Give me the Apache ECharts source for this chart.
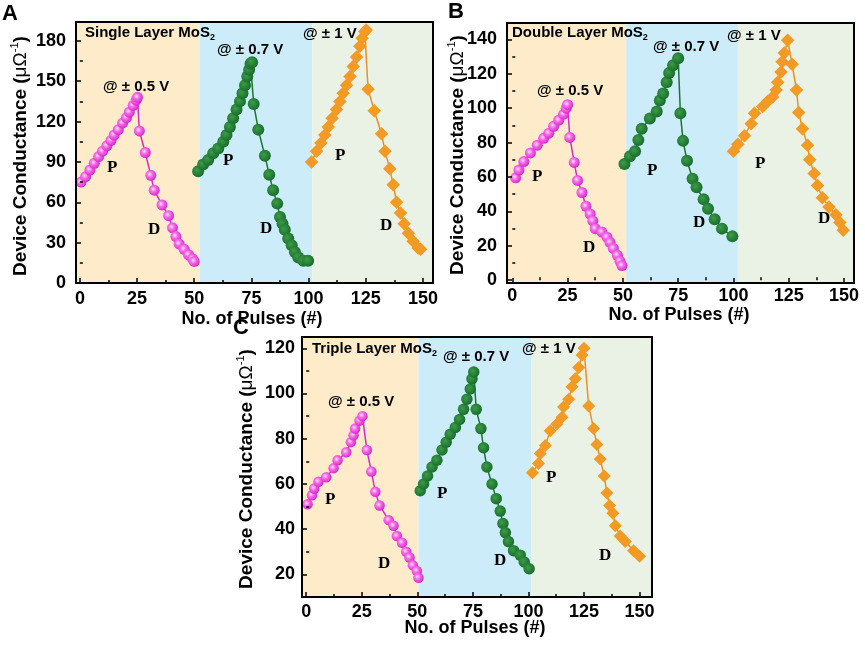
<!DOCTYPE html>
<html><head><meta charset="utf-8">
<script src="https://cdn.jsdelivr.net/npm/echarts@6/dist/echarts.min.js"></script>
<style>html,body{margin:0;padding:0;background:#fff}#c{width:865px;height:645px}</style>
</head><body><div id="c"></div>
<script>
// ---------- tick labels ----------
const xTicks = [0, 25, 50, 75, 100, 125, 150];
const xMinor = [12.5, 37.5, 62.5, 87.5, 112.5, 137.5];
const yTicksA = [0, 30, 60, 90, 120, 150, 180];
const yMinorA = [15, 45, 75, 105, 135, 165];
const yTicksB = [0, 20, 40, 60, 80, 100, 120, 140];
const yMinorB = [10, 30, 50, 70, 90, 110, 130];
const yTicksC = [20, 40, 60, 80, 100, 120];
const yMinorC = [30, 50, 70, 90, 110];

// ---------- background band limits (pulse number) ----------
const bandsA = [52.4, 101.6];
const bandsB = [51.5, 102];
const bandsC = [50.5, 101.2];

// ---------- Panel A : Single Layer ----------
const A_pink_x = [0.5,2.5,4.4,6.3,8.2,9.9,11.8,13.6,15,16.8,18.7,20.4,21.6,23.3,24.6,25.2, 26,28.6,31,32.5,35.9,38.8,40.5,42,43.4,45.6,47.5,49.3,50];
const A_pink_y = [75,79,84,89,94,98,102,106,110,114,119,123,127,132,136,138, 113,97,80,69,58,50,41,34.5,29,25,21,18,16];
const A_green_x = [51.7,53.9,56.1,58.3,60.5,62.7,64.1,65.6,67,68.5,70,71.1,72.2,73.2,74,74.6,75.3, 76,78,80.9,82.8,84.5,86.3,87.5,88.6,89.6,91.1,92.6,94,95.5,97.7,99.8];
const A_green_y = [83,88,91.5,96.5,100,105,110,116,122.5,129,135,141,147,153.5,158.5,163,164, 133,114,94.5,80.5,69,59,49,44,39.5,33,28,23,19,16.5,16.5];
const A_orange_x = [101.3,103.5,105.4,107.1,108.6,110.3,112.2,113.7,115.1,116.6,118.1,119.5,121,122.4,123.4,124.6,125.2, 126,128.7,131.9,133.4,135.5,137,138.5,140.2,141.8,143.6,145.7,147.9,149];
const A_orange_y = [90,98,104,110,116,122.5,129,135,141,147,153.5,161,168,176,182,187,188, 144,128,111,98,85,73,60,52,44,37,31,26,25];

// ---------- Panel B : Double Layer ----------
const B_pink_x = [1.5,3,5.2,8.2,11.3,14.2,16.5,18.7,21,23.2,24.4,25, 26,28,29.5,31.5,33.3,35.2,36.4,37.5,40.5,42.8,44.2,45.7,47.5,48.7,49.6];
const B_pink_y = [59.5,64,69,74,78.5,82.5,85.5,89.5,93,96.5,100,102, 83,68.5,58,51,43,38.5,34.5,30,28,25,22,18.5,14.5,11,8.5];
const B_green_x = [50.7,53.2,55.5,57,58.5,62.2,65.3,66.7,68.2,69.8,70.9,72.7,75, 76,77.2,79,81.5,83.3,86.5,88.5,91.5,94.8,99.5];
const B_green_y = [67.5,72,75,81.5,88,94,98,104.5,108.5,115,120.5,125,129, 97,81,69.5,59,54,47,41.5,35.5,30,25.5];
const B_orange_x = [100,102,105,108,109.5,113.2,115.5,117.7,119.3,120,121.5,122,123,124.5, 126.5,128.5,129.5,131.2,133.5,134.5,136.5,138,140.2,143.2,146.3,148.1,149.6];
const B_orange_y = [75,79,84,91,97,101,104,106.5,110.5,115,121,127,132,139.5, 125.5,110.5,97.5,88,78.5,70,62,55,48,42.5,38,33.5,29];

// ---------- Panel C : Triple Layer ----------
const C_pink_x = [0.6,2.6,3.6,5.5,9,12.3,14.1,18,20.1,21.3,22,24,25.3, 27.3,29.3,31.1,33,37.1,39.3,40.8,43.1,45,46.5,48,49.8,50.5];
const C_pink_y = [51,55,58,61,63,67,70.5,74,78.5,81.5,84.5,88,90, 75,65.5,56.5,50.5,44,41.5,37,34,30,27.5,24,21.5,18.5];
const C_green_x = [51.3,52.8,54.6,56.6,58.8,61.1,63,64.8,67.1,69,70.8,72.3,73.8,74.6,75.4, 76.5,78.6,79.8,81.3,83.6,85.5,87.3,88.5,89.6,91,93.3,96.3,98.1,100.3];
const C_green_y = [57,60,63.5,67.5,70.5,75,78.5,82,85,88.5,93,97.5,102,106.5,109.5, 93,84.5,76,67.5,60,53.5,48,42.5,38.5,34.5,30.5,28.5,25.5,22.5];
const C_orange_x = [101.8,104.5,105.3,107.6,109.8,112.8,115.1,115.8,118.1,119.6,121.1,122.6,124.1,125, 127.1,129.3,130.8,132.3,134.1,135.3,136.5,138,139.1,141.3,143.6,147.3,150];
const C_orange_y = [65,69,73.5,77,83.5,86.5,89.5,94,97.5,103,106.5,111.5,117,120, 94.5,84.5,77.5,71,63.5,56,50.5,47,41.5,37,34.5,30.5,28];

// ---------- styles ----------
const SANS = "'Liberation Sans', Arial, Helvetica, sans-serif";
const SERIF = "'Liberation Serif', 'Times New Roman', serif";
const BAND_COLORS = ['#fdebc9', '#cbecf8', '#eaf1e5'];
const pinkFill = {type:'radial', x:0.4, y:0.4, r:0.7, colorStops:[{offset:0,color:'#ffe2fb'},{offset:0.35,color:'#f46ee9'},{offset:0.75,color:'#e436d4'},{offset:1,color:'#c01cb2'}]};
const greenFill = {type:'radial', x:0.4, y:0.4, r:0.7, colorStops:[{offset:0,color:'#3c9c48'},{offset:1,color:'#136628'}]};
const orangeFill = '#f29a24';

const zip = (xs, ys) => xs.map((x, i) => [x, ys[i]]);

const grids = [], xAxes = [], yAxes = [], series = [];

function panel(p) {
  const gi = grids.length;
  grids.push({left:p.grid[0], top:p.grid[1], width:p.grid[2], height:p.grid[3], containLabel:false});
  const base = {gridIndex:gi, type:'value', splitLine:{show:false}, z:10};
  const xi = xAxes.length, yi = yAxes.length;
  xAxes.push(Object.assign({}, base, {min:p.x[0], max:p.x[1], position:'bottom',
    axisLine:{show:true, onZero:false, lineStyle:{color:'#000', width:2}},
    axisTick:{show:true, inside:true, length:5, customValues:xTicks, lineStyle:{color:'#000', width:1.5}},
    axisLabel:{customValues:xTicks, color:'#000', fontWeight:'bold', fontSize:18, fontFamily:SANS, margin:p.xm}}));
  xAxes.push(Object.assign({}, base, {min:p.x[0], max:p.x[1], position:'bottom',
    axisLine:{show:false}, axisLabel:{show:false},
    axisTick:{show:true, inside:true, length:3, customValues:xMinor, lineStyle:{color:'#000', width:1.5}}}));
  xAxes.push(Object.assign({}, base, {min:p.x[0], max:p.x[1], position:'top',
    axisLine:{show:true, onZero:false, lineStyle:{color:'#000', width:2}}, axisTick:{show:false}, axisLabel:{show:false}}));
  yAxes.push(Object.assign({}, base, {min:p.y[0], max:p.y[1], position:'left',
    axisLine:{show:true, onZero:false, lineStyle:{color:'#000', width:2}},
    axisTick:{show:true, inside:true, length:5, customValues:p.yt, lineStyle:{color:'#000', width:1.5}},
    axisLabel:{customValues:p.yt, color:'#000', fontWeight:'bold', fontSize:18, fontFamily:SANS, margin:p.ym}}));
  yAxes.push(Object.assign({}, base, {min:p.y[0], max:p.y[1], position:'left',
    axisLine:{show:false}, axisLabel:{show:false},
    axisTick:{show:true, inside:true, length:3, customValues:p.ymin, lineStyle:{color:'#000', width:1.5}}}));
  yAxes.push(Object.assign({}, base, {min:p.y[0], max:p.y[1], position:'right',
    axisLine:{show:true, onZero:false, lineStyle:{color:'#000', width:2}}, axisTick:{show:false}, axisLabel:{show:false}}));

  series.push({type:'line', xAxisIndex:xi, yAxisIndex:yi, data:[], z:1, silent:true,
    markArea:{silent:true, data:[
      [{xAxis:p.x[0], itemStyle:{color:BAND_COLORS[0]}}, {xAxis:p.bands[0]}],
      [{xAxis:p.bands[0], itemStyle:{color:BAND_COLORS[1]}}, {xAxis:p.bands[1]}],
      [{xAxis:p.bands[1], itemStyle:{color:BAND_COLORS[2]}}, {xAxis:p.x[1]}]
    ]}});
  const mk = (data, lineColor, fill, symbol, size) => ({
    type:'line', xAxisIndex:xi, yAxisIndex:yi, data, z:3, animation:false,
    symbol, symbolSize:size, showSymbol:true,
    lineStyle:{color:lineColor, width:1.5},
    itemStyle:{color:fill, borderWidth:0}
  });
  series.push(mk(p.pink, '#d22ec4', pinkFill, 'circle', p.ms));
  series.push(mk(p.green, '#1b7430', greenFill, 'circle', p.ms + 1));
  series.push(mk(p.orange, '#ec9022', orangeFill, 'diamond', [p.ms + 2.5, p.ms + 2.5]));
}

panel({grid:[76,22,357,261], x:[-1.7,154.4], y:[0,194], yt:yTicksA, ymin:yMinorA, bands:bandsA, xm:7, ym:10, ms:11,
  pink:zip(A_pink_x, A_pink_y), green:zip(A_green_x, A_green_y), orange:zip(A_orange_x, A_orange_y)});
panel({grid:[507,23,347,260], x:[-2.4,154.5], y:[-1.6,149.5], yt:yTicksB, ymin:yMinorB, bands:bandsB, xm:4, ym:10, ms:11,
  pink:zip(B_pink_x, B_pink_y), green:zip(B_green_x, B_green_y), orange:zip(B_orange_x, B_orange_y)});
panel({grid:[302,337,350,260], x:[-1.9,155.6], y:[10,125], yt:yTicksC, ymin:yMinorC, bands:bandsC, xm:6, ym:7, ms:10.5,
  pink:zip(C_pink_x, C_pink_y), green:zip(C_green_x, C_green_y), orange:zip(C_orange_x, C_orange_y)});

// ---------- text ----------
function t(x, y, text, size, opts) {
  return Object.assign({type:'text', x, y, z:100, silent:true,
    style:Object.assign({text, fill:'#000', fontSize:size, fontWeight:'bold', fontFamily:SANS, align:'left', verticalAlign:'middle'}, opts || {})});
}
function layer(x, y, name) {
  return {type:'text', x, y, z:100, silent:true, style:{
    text:'{a|' + name + ' Layer MoS}{s|2}', align:'left', verticalAlign:'middle', fill:'#000',
    rich:{a:{fontSize:15, fontWeight:'bold', fontFamily:SANS, lineHeight:18, fill:'#000'},
          s:{fontSize:9, fontWeight:'bold', fontFamily:SANS, lineHeight:4, verticalAlign:'bottom', fill:'#000'}}}};
}
function ylab(x, y) {
  return {type:'text', x, y, rotation:Math.PI/2, z:100, silent:true, style:{
    text:'{a|Device Conductance (}{m|μΩ}{s|-1}{a|)}', align:'center', verticalAlign:'middle', fill:'#000',
    rich:{a:{fontSize:19, fontWeight:'bold', fontFamily:SANS, lineHeight:24, fill:'#000'},
          m:{fontSize:19, fontWeight:'normal', fontFamily:SANS, lineHeight:24, fill:'#000'},
          s:{fontSize:11, fontWeight:'normal', fontFamily:SANS, lineHeight:12, verticalAlign:'top', fill:'#000'}}}};
}
const PD = {fontFamily:SERIF, fontWeight:'bold'};
const graphics = [
  // Panel A
  t(2, 14, 'A', 22),
  layer(85, 33, 'Single'),
  t(103, 87, '@ ± 0.5 V', 15), t(217, 50, '@ ± 0.7 V', 15), t(303, 34, '@ ± 1 V', 15),
  t(107, 168, 'P', 17, PD), t(148, 230, 'D', 17, PD),
  t(223, 161, 'P', 17, PD), t(260, 229, 'D', 17, PD),
  t(335, 156, 'P', 17, PD), t(380, 226, 'D', 17, PD),
  ylab(21, 156),
  t(252, 319, 'No. of Pulses (#)', 18, {align:'center'}),
  // Panel B
  t(448, 12, 'B', 22),
  layer(512, 33, 'Double'),
  t(537, 91, '@ ± 0.5 V', 15), t(653, 47, '@ ± 0.7 V', 15), t(727, 36, '@ ± 1 V', 15),
  t(532, 177, 'P', 17, PD), t(583, 248, 'D', 17, PD),
  t(647, 171, 'P', 17, PD), t(693, 223, 'D', 17, PD),
  t(755, 164, 'P', 17, PD), t(818, 219, 'D', 17, PD),
  ylab(458, 155),
  t(679, 315, 'No. of Pulses (#)', 18, {align:'center'}),
  // Panel C
  t(233, 328, 'C', 22),
  layer(312, 349, 'Triple'),
  t(328, 402, '@ ± 0.5 V', 15), t(443, 357, '@ ± 0.7 V', 15), t(522, 349, '@ ± 1 V', 15),
  t(325, 500, 'P', 17, PD), t(378, 564, 'D', 17, PD),
  t(437, 494, 'P', 17, PD), t(494, 561, 'D', 17, PD),
  t(546, 478, 'P', 17, PD), t(599, 556, 'D', 17, PD),
  ylab(247, 469),
  t(475, 628, 'No. of Pulses (#)', 18, {align:'center'})
];

const chart = echarts.init(document.getElementById('c'));
chart.setOption({
  animation:false,
  backgroundColor:'#ffffff',
  grid:grids, xAxis:xAxes, yAxis:yAxes, series,
  graphic:graphics
});
</script>
</body></html>
